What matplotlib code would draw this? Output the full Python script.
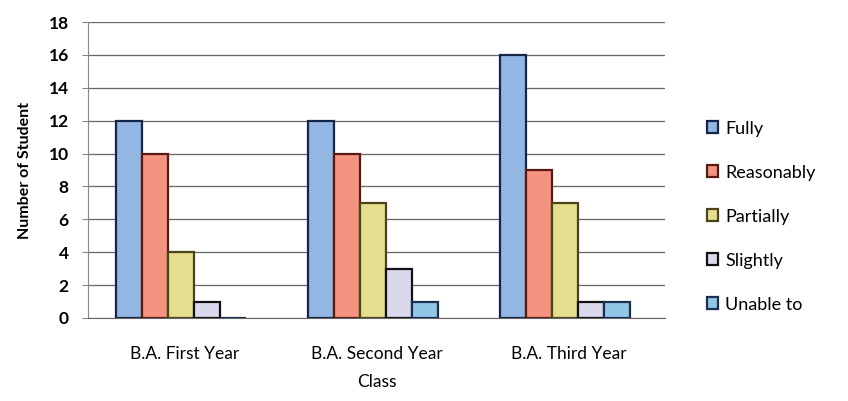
import numpy as np
import matplotlib.pyplot as plt

plt.rcParams["font.family"] = ["Lato", "DejaVu Sans"]

classes = ["B.A. First Year", "B.A. Second Year", "B.A. Third Year"]
levels = ["Fully", "Reasonably", "Partially", "Slightly", "Unable to"]
fully = [12, 12, 16]
reasonably = [10, 10, 9]
partially = [4, 7, 7]
slightly = [1, 3, 1]
unable_to = [0, 1, 1]

faces = ["#93b6e2", "#f4937f", "#e4de8e", "#dcd8ec", "#92c6e8"]
edges = ["#14254a", "#5a1a10", "#4a4418", "#111111", "#1b3050"]

fig = plt.figure(figsize=(8.48, 4.01), dpi=100)
ax = fig.add_axes([0.104, 0.207, 0.68, 0.738])

x = np.arange(len(classes))
w = 0.135
series = [fully, reasonably, partially, slightly, unable_to]
for i, vals in enumerate(series):
    ax.bar(x - 0.4 + w * (i + 0.5) + 0.045, vals, width=w, color=faces[i],
           edgecolor=edges[i], linewidth=1.6, label=levels[i], zorder=3)

ax.set_xlim(-0.5, 2.5)
ax.set_ylim(0, 18)
ax.set_yticks(range(0, 19, 2))
ax.yaxis.grid(True, color="#666666", linewidth=0.9, zorder=0)
ax.set_xticks(x)
ax.set_xticklabels(classes, fontsize=12.5)
ax.tick_params(axis="x", length=0, pad=20)
ax.tick_params(axis="y", labelsize=12.5, length=4, color="#888888", pad=10)
for lbl in ax.get_yticklabels():
    lbl.set_fontweight("bold")
for s in ["top", "right"]:
    ax.spines[s].set_visible(False)
ax.spines["left"].set_color("#888888")
ax.spines["bottom"].set_color("#666666")
ax.set_ylabel("Number of Student", fontsize=11.5, fontweight="bold", labelpad=12)
ax.set_xlabel("Class", fontsize=12.5, labelpad=9)

ax.legend(loc="center left", bbox_to_anchor=(0.815, 0.46),
          bbox_transform=fig.transFigure, frameon=False,
          fontsize=13, handlelength=0.6, handleheight=0.6, handletextpad=0.4,
          labelspacing=1.55)

fig.savefig("out.png", dpi=100)
